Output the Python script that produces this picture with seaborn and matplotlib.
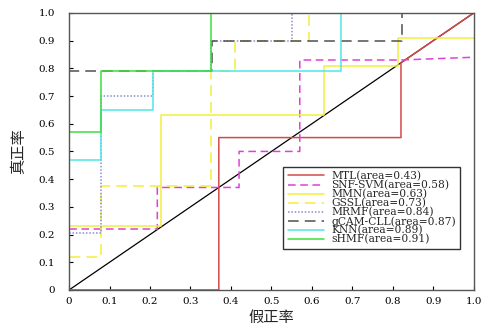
import matplotlib
matplotlib.use("Agg")
import matplotlib.pyplot as plt
import seaborn as sns
from matplotlib.ticker import FuncFormatter

sns.set_style("white")
plt.rcParams['font.family'] = ['DejaVu Serif']

# ROC step curves (false positive rate, true positive rate)
mtl_fpr = [0, 0.37, 0.37, 0.82, 0.82, 1.0]
mtl_tpr = [0, 0.0, 0.55, 0.55, 0.82, 1.0]

snf_fpr = [0, 0, 0.218, 0.218, 0.42, 0.42, 0.57, 0.57, 0.82, 1.0]
snf_tpr = [0, 0.22, 0.22, 0.37, 0.37, 0.50, 0.50, 0.83, 0.83, 0.84]

mmn_fpr = [0, 0, 0.227, 0.227, 0.63, 0.63, 0.812, 0.812, 1.0]
mmn_tpr = [0, 0.23, 0.23, 0.63, 0.63, 0.81, 0.81, 0.91, 0.91]

gssl_fpr = [0, 0, 0.078, 0.078, 0.35, 0.35, 0.41, 0.41, 0.592, 0.592, 1.0]
gssl_tpr = [0, 0.12, 0.12, 0.377, 0.377, 0.79, 0.79, 0.90, 0.90, 1.0, 1.0]

mrmf_fpr = [0, 0, 0.078, 0.078, 0.207, 0.207, 0.35, 0.35, 0.55, 0.55, 1.0]
mrmf_tpr = [0, 0.207, 0.207, 0.70, 0.70, 0.79, 0.79, 0.90, 0.90, 1.0, 1.0]

gcam_fpr = [0, 0, 0.353, 0.353, 0.822, 0.822, 1.0]
gcam_tpr = [0, 0.79, 0.79, 0.90, 0.90, 1.0, 1.0]

knn_fpr = [0, 0, 0.078, 0.078, 0.207, 0.207, 0.671, 0.671, 1.0]
knn_tpr = [0, 0.47, 0.47, 0.65, 0.65, 0.79, 0.79, 1.0, 1.0]

shmf_fpr = [0, 0, 0.078, 0.078, 0.35, 0.35, 1.0]
shmf_tpr = [0, 0.57, 0.57, 0.79, 0.79, 1.0, 1.0]

names = ["MTL", "SNF-SVM", "MMN", "GSSL", "MRMF", "gCAM-CLL", "KNN", "sHMF"]
areas = [0.43, 0.58, 0.63, 0.73, 0.84, 0.87, 0.89, 0.91]
xlabel = "假正率"
ylabel = "真正率"
ticks = [0, 0.1, 0.2, 0.3, 0.4, 0.5, 0.6, 0.7, 0.8, 0.9, 1.0]

curves = [(mtl_fpr, mtl_tpr), (snf_fpr, snf_tpr), (mmn_fpr, mmn_tpr),
          (gssl_fpr, gssl_tpr), (mrmf_fpr, mrmf_tpr), (gcam_fpr, gcam_tpr),
          (knn_fpr, knn_tpr), (shmf_fpr, shmf_tpr)]
styles = [
    dict(color="#d24a4a", ls="-"),
    dict(color="#e040d8", ls=(0, (5, 3))),
    dict(color="#f2ee3a", ls="-"),
    dict(color="#f2ee3a", ls=(0, (7, 4))),
    dict(color="#8c8cd0", ls=(0, (1, 1.2))),
    dict(color="#505050", ls=(0, (7, 4))),
    dict(color="#50e6e6", ls="-"),
    dict(color="#3edc3e", ls="-"),
]

fig = plt.figure(figsize=(4.83, 3.31), dpi=100)
ax = fig.add_axes([0.143, 0.124, 0.838, 0.837])

# diagonal
sns.lineplot(x=[0, 1], y=[0, 1], ax=ax, color="black", lw=0.9,
             estimator=None, sort=False, legend=False)

for (fx, ty), st, nm, ar in zip(curves, styles, names, areas):
    sns.lineplot(x=fx, y=ty, ax=ax, color=st["color"], linestyle=st["ls"],
                 lw=1.1, estimator=None, sort=False,
                 label=f"{nm}(area={ar:.2f})")

ax.set_xlim(0, 1)
ax.set_ylim(0, 1)
ax.set_xticks(ticks)
ax.set_yticks(ticks)
fmt = FuncFormatter(lambda v, p: "0" if abs(v) < 1e-9 else f"{v:.1f}")
ax.xaxis.set_major_formatter(fmt)
ax.yaxis.set_major_formatter(fmt)
ax.tick_params(axis="x", direction="in", length=3, width=0.8, pad=5,
               labelsize=7.5, colors="black", bottom=True, top=False)
ax.tick_params(axis="y", direction="in", length=3, width=0.8, pad=10,
               labelsize=7.5, colors="black", left=True, right=False)
for s in ax.spines.values():
    s.set_color("#555555")
    s.set_linewidth(1.0)
    s.set_visible(True)

ax.set_xlabel(xlabel, fontsize=11, family=["Noto Sans CJK SC"], labelpad=2)
ax.set_ylabel(ylabel, fontsize=11, family=["Noto Sans CJK SC"], labelpad=8)

leg = ax.legend(loc="lower right", bbox_to_anchor=(0.967, 0.148),
                borderaxespad=0, fontsize=7.7, frameon=True, fancybox=False,
                labelspacing=-0.12, handlelength=3.4, handletextpad=0.7,
                borderpad=0.4)
leg.get_frame().set_edgecolor("black")
leg.get_frame().set_linewidth(1.0)

fig.savefig("out.png", dpi=100)
